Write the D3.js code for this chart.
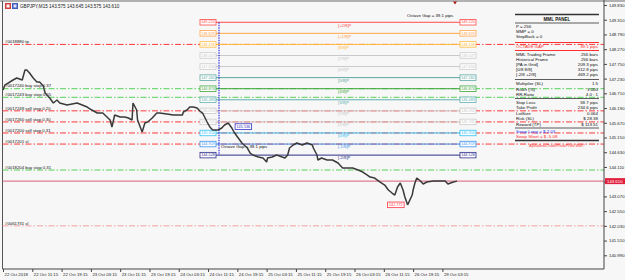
<!DOCTYPE html>
<html>
<head>
<meta charset="utf-8">
<title>GBPJPY M15 MML</title>
<script src="https://cdn.jsdelivr.net/npm/d3@7"></script>
<style>
  html, body { margin: 0; padding: 0; background: #f7f7f7; }
  svg text { font-family: "Liberation Sans", Arial, sans-serif; }
</style>
</head>
<body>
<svg id="mainsvg" width="625" height="280"></svg>
<script>
// ---- data ----
const titleText = "GBPJPY,M15  143.575 143.645 143.575 143.610";
const timeLabels = ["22 Oct 2018", "22 Oct 11:15", "22 Oct 19:15", "23 Oct 03:15", "23 Oct 11:15",
  "23 Oct 19:15", "24 Oct 03:15", "24 Oct 11:15", "24 Oct 19:15", "25 Oct 03:15", "25 Oct 11:15",
  "25 Oct 19:15", "26 Oct 03:15", "26 Oct 11:15", "26 Oct 19:15", "29 Oct 03:15"];
const timeTickBars = [0, 32, 64, 96, 128, 160, 192, 224, 256, 288, 320, 352, 384, 416, 448, 480];
const priceTicks = [149.830, 149.310, 148.790, 148.270, 147.750, 147.230, 146.710, 146.190, 145.670,
  145.150, 144.630, 144.110, 143.590, 143.070, 142.550, 142.030, 141.510, 140.990];

// price path (bar index, price)
const bars = [0, 2, 11, 15, 21, 24, 26, 29, 33, 37, 40, 44, 46, 51, 55, 59, 62, 70, 81, 92, 97, 103, 109,
  117, 119, 122, 128, 133, 137, 141, 142, 146, 147, 152, 155, 158, 163, 168, 171, 179, 186, 196, 197,
  201, 204, 208, 212, 215, 218, 223, 226, 229, 235, 239, 242, 246, 250, 253, 257, 261, 267, 270, 273,
  279, 284, 288, 289, 294, 299, 305, 308, 311, 313, 317, 321, 327, 332, 338, 339, 343, 344, 348, 354,
  360, 366, 371, 377, 382, 388, 393, 398, 401, 406, 412, 417, 421, 425, 428, 431, 434, 437, 439, 442,
  447, 448, 450, 452, 456, 459, 463, 470, 477, 483, 486, 492, 496];
const prices = [146.828, 147.004, 147.181, 147.251, 147.181, 147.534, 147.534, 147.428, 147.251, 147.110,
  147.110, 146.969, 146.722, 146.545, 146.368, 146.474, 146.368, 146.298, 146.368, 146.227, 146.121,
  146.015, 146.015, 145.768, 145.521, 145.944, 145.874, 145.874, 145.838, 145.768, 146.368, 146.121,
  145.768, 145.344, 145.662, 145.697, 145.838, 146.015, 146.015, 145.980, 145.944, 145.944, 146.050,
  146.121, 146.227, 146.227, 146.192, 146.086, 146.015, 145.697, 145.521, 145.415, 145.415, 145.485,
  145.591, 145.662, 145.485, 145.309, 145.132, 144.955, 144.779, 144.602, 144.532, 144.461, 144.426,
  144.284, 144.426, 144.461, 144.532, 144.461, 144.426, 144.532, 144.779, 144.885, 144.955, 144.885,
  144.955, 144.885, 144.779, 144.532, 144.355, 144.426, 144.355, 144.355, 144.249, 144.072, 144.072,
  144.072, 144.002, 143.931, 143.825, 143.754, 143.719, 143.578, 143.472, 143.295, 143.189, 143.119,
  143.401, 143.543, 143.295, 143.048, 142.772, 143.119, 143.295, 143.543, 143.719, 143.613, 143.507,
  143.578, 143.613, 143.613, 143.613, 143.507, 143.578, 143.610];
const currentPrice = 143.610;
const lowPrice = 142.772;
const lowBar = 442;
const markPrice = 145.536;
const anchorBar = 235;

// Murrey math levels
const levelNames = ["[+2/8]P", "[+1/8]P", "[8/8]P", "[7/8]P", "[6/8]P", "[5/8]P", "[4/8]P",
  "[3/8]P", "[2/8]P", "[1/8]P", "[0/8]P", "[-1/8]P", "[-2/8]P"];
const levelPrices = [149.220, 148.829, 148.438, 148.047, 147.656, 147.265, 146.874,
  146.483, 146.092, 145.701, 145.310, 144.919, 144.528];
const octaveGapText = "Octave Gap = 39.1 pips";

// order lines
const orderLabels = ["#0018880 tp", "#0017240 buy stop 0.37", "#0017243 buy stop 0.05",
  "#0017249 sell stop 0.20", "#0017260 sell stop 0.30", "#0017200 sell stop 0.31",
  "#0017201 sl", "#0018204 buy stop 0.31", "#0061731 sl"];
const orderPrices = [148.438, 146.874, 146.570, 146.092, 145.701, 145.310, 144.919, 144.002, 142.030];
const orderKinds = ["red", "green", "green", "red", "red", "red", "red", "green", "pale"];

// panel rows
const panelLabels = ["P = 256", "MMP = 0", "StepBack = 0", "OCTAVE GAP", "MML Trading Frame",
  "Historical Frame", "[PA  in  Grid]", "[0/8      8/8]", "[-2/8   +2/8]", "Multiplier (SL)",
  "Risk/t (%)", "RR-Ratio", "Stop Loss", "Take Profit", "LotSize", "Risk (SL)", "Reward (TP)",
  "Swap Long   =  $ 2.03", "Swap Short  =  $ -5.08"];
const panelValues = ["", "", "", "39.1 pips", "256 bars", "256 bars", "209.3 pips", "312.8 pips",
  "469.2 pips", "1.5", "3.000", "4.0 : 1", "58.7  pips", "234.6  pips", "0.064", "$ 28.38",
  "$ 113.51", "", ""];
const panelFooter = "AlphaBeta/Trade/Pivot/Profit Wolf !";

// ---- styles ----
const levelColors = ["#ff4a4a", "#ffa54a", "#ffbb3a", "#c9c9c9", "#c9c9c9", "#5aa6a0", "#3fa63f",
  "#5fb0b0", "#c9c9c9", "#c9c9c9", "#2fc2f2", "#3b93ee", "#2e2e8c"];
const kindColor = { red: "#ff3a3a", green: "#55d055", pale: "#f4a0a0" };

const svg = d3.select("#mainsvg");
const plot = { left: 2.5, right: 604, top: 1.5, bottom: 269 };

const y = d3.scaleLinear().domain([149.830, 140.990]).range([5, 255.3]);
const x = d3.scaleLinear().domain([0, 480]).range([3, 442.4]);

svg.append("rect").attr("x", 0).attr("y", 0).attr("width", 625).attr("height", 280).attr("fill", "#f7f7f7");

// frame
svg.append("line").attr("x1", 0).attr("x2", 625).attr("y1", 1).attr("y2", 1)
  .attr("stroke", "#9a9a9a").attr("stroke-width", 1.5);
svg.append("line").attr("x1", plot.left).attr("x2", plot.left).attr("y1", 1).attr("y2", plot.bottom)
  .attr("stroke", "#555");

// title
const icon = svg.append("g");
icon.append("rect").attr("x", 5).attr("y", 3).attr("width", 6).attr("height", 6).attr("fill", "#d04040");
icon.append("rect").attr("x", 6.5).attr("y", 4.5).attr("width", 3).attr("height", 3).attr("fill", "#fff");
icon.append("rect").attr("x", 12).attr("y", 3).attr("width", 6).attr("height", 6).attr("fill", "#4060c0");
icon.append("rect").attr("x", 13.5).attr("y", 4.5).attr("width", 3).attr("height", 3).attr("fill", "#e0e0ff");
svg.append("text").attr("x", 20).attr("y", 6.5).attr("dominant-baseline", "central")
  .attr("font-size", 4.6).attr("fill", "#222").text(titleText);

// chart shift marker
svg.append("path").attr("d", "M453,1.5 L457,1.5 L455,4.5 Z").attr("fill", "#b01818");

// order dash-dot lines
const orders = svg.append("g");
orderPrices.forEach((p, i) => {
  orders.append("line").attr("x1", plot.left).attr("x2", plot.right)
    .attr("y1", y(p)).attr("y2", y(p))
    .attr("stroke", kindColor[orderKinds[i]]).attr("stroke-width", 1)
    .attr("stroke-dasharray", "6,2,1.5,2");
  orders.append("text").attr("x", 5).attr("y", y(p) - 1.2)
    .attr("font-size", 4.3).attr("fill", "#111").text(orderLabels[i]);
});

// current price line
svg.append("line").attr("x1", plot.left).attr("x2", plot.right)
  .attr("y1", y(currentPrice)).attr("y2", y(currentPrice))
  .attr("stroke", "#d8607a").attr("stroke-width", 1);

// MML levels
const lv = svg.append("g");
const boxL = 200, boxR = 460, boxW = 16, boxH = 5.5;
levelPrices.forEach((p, i) => {
  const yy = y(p), c = levelColors[i];
  lv.append("line").attr("x1", boxL + boxW).attr("x2", boxR).attr("y1", yy).attr("y2", yy)
    .attr("stroke", c).attr("stroke-width", 1);
  [boxL, boxR].forEach(bx => {
    lv.append("rect").attr("x", bx).attr("y", yy - boxH / 2).attr("width", boxW).attr("height", boxH)
      .attr("fill", "#fff").attr("stroke", c).attr("stroke-width", 0.8);
    lv.append("text").attr("x", bx + boxW / 2).attr("y", yy + 0.2).attr("text-anchor", "middle")
      .attr("dominant-baseline", "central").attr("font-size", 3.8).attr("fill", c)
      .text(p.toFixed(3));
  });
  lv.append("text").attr("x", 338).attr("y", yy + 4.3).attr("font-size", 4.2).attr("fill", c)
    .text(levelNames[i]);
});
// anchor dotted line
svg.append("line").attr("x1", 219).attr("x2", 219)
  .attr("y1", y(levelPrices[0])).attr("y2", y(levelPrices[levelPrices.length - 1]))
  .attr("stroke", "#1010e0").attr("stroke-width", 1).attr("stroke-dasharray", "1.5,1");
svg.append("text").attr("x", 407).attr("y", y(levelPrices[0]) - 5.5).attr("font-size", 4.4)
  .attr("fill", "#111").text(octaveGapText);
svg.append("text").attr("x", 221).attr("y", y(levelPrices[11]) + 4.3).attr("font-size", 4.4)
  .attr("fill", "#111").text(octaveGapText);

// price series
const series = bars.map((b, i) => ({ b: b, p: prices[i] }));
const line = d3.line().x(d => x(d.b)).y(d => y(d.p));
svg.append("path").datum(series).attr("d", line).attr("fill", "none")
  .attr("stroke", "#3a3a3a").attr("stroke-width", 1.5).attr("stroke-linejoin", "bevel");

// mark boxes
function priceBox(bx, p, c) {
  svg.append("rect").attr("x", bx).attr("y", y(p) - 2.8).attr("width", 16.5).attr("height", 5.6)
    .attr("fill", "#fff").attr("stroke", c).attr("stroke-width", 0.8);
  svg.append("text").attr("x", bx + 8.25).attr("y", y(p) + 0.2).attr("text-anchor", "middle")
    .attr("dominant-baseline", "central").attr("font-size", 3.8).attr("fill", c).text(p.toFixed(3));
}
priceBox(x(anchorBar) + 17, markPrice, "#3030c0");
priceBox(x(lowBar) - 20, lowPrice, "#ff3040");

// panel
const pan = svg.append("g");
const pL = 515, pR = 599;
const rowY = [26, 31.5, 36.5, 46.5, 54, 59, 64, 69.5, 74.5, 83.5, 89, 94, 102, 107.5, 113, 118.5, 124, 131, 136];
function pline(yy, w, c) {
  pan.append("line").attr("x1", pL).attr("x2", pR).attr("y1", yy).attr("y2", yy)
    .attr("stroke", c).attr("stroke-width", w);
}
pline(14.5, 1.6, "#333"); pline(23, 0.8, "#333");
pline(42.5, 1, "#ff3030"); pline(50.5, 1, "#ff3030");
pline(79.5, 0.8, "#333"); pline(98.5, 0.8, "#333"); pline(128, 0.8, "#333"); pline(140.5, 1.6, "#333");
pan.append("text").attr("x", (pL + pR) / 2).attr("y", 19).attr("text-anchor", "middle")
  .attr("dominant-baseline", "central").attr("font-size", 4.6).attr("font-weight", "bold")
  .attr("font-family", "Liberation Serif, serif").attr("fill", "#111").text("MML PANEL");
panelLabels.forEach((t, i) => {
  let c = "#111";
  if (t === "OCTAVE GAP") c = "#ff2a2a";
  if (t.startsWith("Swap Long")) c = "#2040ff";
  if (t.startsWith("Swap Short")) c = "#ff2a2a";
  pan.append("text").attr("x", pL + 1).attr("y", rowY[i]).attr("dominant-baseline", "central")
    .attr("font-size", 4.4).attr("fill", c).text(t);
  if (panelValues[i]) {
    pan.append("text").attr("x", pR - 1).attr("y", rowY[i]).attr("text-anchor", "end")
      .attr("dominant-baseline", "central").attr("font-size", 4.4).attr("fill", c).text(panelValues[i]);
  }
});
pan.append("text").attr("x", (pL + pR) / 2).attr("y", 145.5).attr("text-anchor", "middle")
  .attr("dominant-baseline", "central").attr("font-size", 3.6).attr("font-style", "italic")
  .attr("fill", "#ff2a2a").text(panelFooter);

// axes (price label hidden under the current price tag, as the terminal does)
const yAxis = d3.axisRight(y).tickValues(priceTicks).tickSize(3).tickPadding(2)
  .tickFormat(d => Math.abs(y(d) - y(currentPrice)) < 6 ? "" : d3.format(".3f")(d));
const yg = svg.append("g").attr("transform", `translate(${plot.right},0)`).call(yAxis);
yg.select(".domain").attr("d", `M0,0V${plot.bottom}`).attr("stroke", "#444");
yg.selectAll("text").attr("font-size", 4.3).attr("fill", "#222").attr("font-family", "Liberation Sans, Arial");
yg.selectAll("line").attr("stroke", "#444");

const xAxis = d3.axisBottom(x).tickValues(timeTickBars).tickSize(3).tickPadding(1)
  .tickFormat((d, i) => timeLabels[i]);
const xg = svg.append("g").attr("transform", `translate(0,${plot.bottom})`).call(xAxis);
xg.select(".domain").attr("d", `M${plot.left},0H${plot.right}`).attr("stroke", "#444");
xg.selectAll("text").attr("font-size", 4.3).attr("fill", "#222").attr("text-anchor", "start")
  .attr("dx", 1).attr("font-family", "Liberation Sans, Arial");
xg.selectAll("line").attr("stroke", "#444");

// current price tag
svg.append("rect").attr("x", 605).attr("y", y(currentPrice) - 3).attr("width", 20).attr("height", 6)
  .attr("fill", "#e0203c");
svg.append("text").attr("x", 607).attr("y", y(currentPrice) + 0.2).attr("dominant-baseline", "central")
  .attr("font-size", 4.3).attr("fill", "#fff").text(currentPrice.toFixed(3));
</script>
</body>
</html>
